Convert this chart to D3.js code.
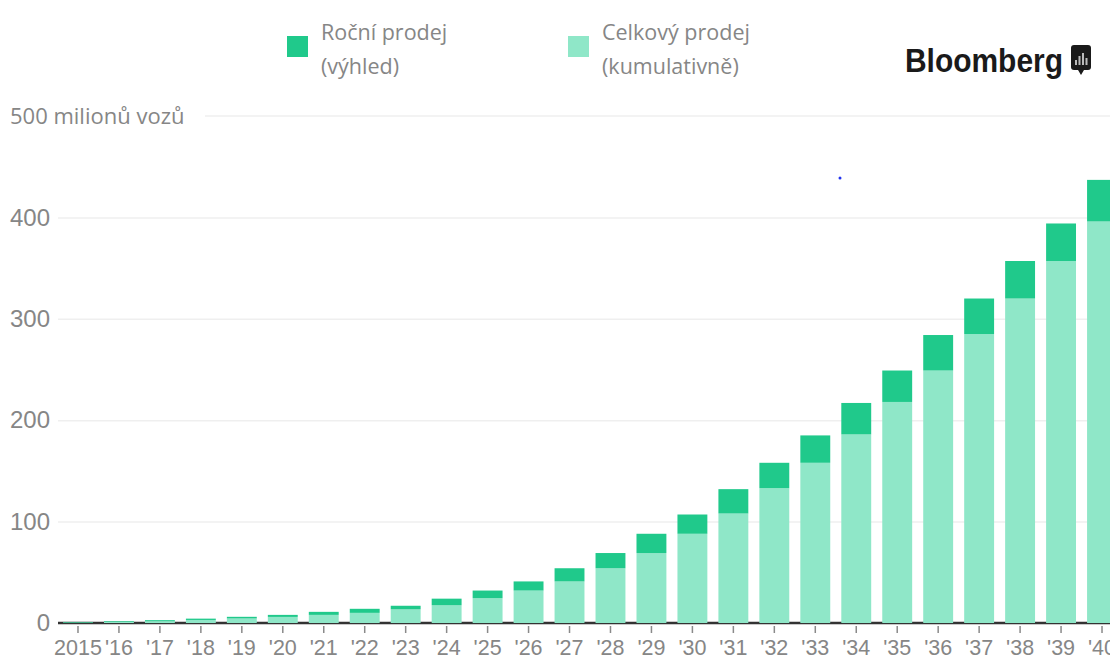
<!DOCTYPE html>
<html>
<head>
<meta charset="utf-8">
<script src="https://cdn.jsdelivr.net/npm/d3@7"></script>
<style>
  body { margin: 0; background: #fff; }
  svg { display: block; }
</style>
</head>
<body>
<script>
// years on the x axis and their short labels
const years = d3.range(2015, 2041)
const tickLabels = ["2015", "'16", "'17", "'18", "'19", "'20", "'21", "'22", "'23", "'24", "'25", "'26", "'27",
    "'28", "'29", "'30", "'31", "'32", "'33", "'34", "'35", "'36", "'37", "'38", "'39", "'40"]

// cumulative sales (light part), millions of cars
const cumulative = [0.5, 1, 1.8, 3, 4.5, 6, 8, 10, 13.5, 17.5, 24.5, 32, 41, 54, 69, 88, 108, 133, 158, 186,
    218, 249, 285, 320, 357, 396]
// annual sales outlook (dark part)
const annual = [0.5, 0.7, 1, 1.3, 1.6, 2, 3, 4, 3.5, 6.5, 7.5, 9, 13, 15, 19, 19, 24, 25, 27, 31,
    31, 35, 35, 37, 37, 41]

const yTicks = [0, 100, 200, 300, 400]
const legendItems = [
    {lines: ["Roční prodej", "(výhled)"], color: "#20c98b"},
    {lines: ["Celkový prodej", "(kumulativně)"], color: "#8fe7c8"}
]

const width = 1110, height = 668
const svg = d3.select("body").append("svg")
    .attr("width", width)
    .attr("height", height)

const x = d3.scaleBand()
    .domain(years)
    .range([57.5, 1122.5])
    .paddingInner(0.27)
    .paddingOuter(0.135)

const y = d3.scaleLinear()
    .domain([0, 500])
    .range([623, 116])

const textGrey = "#868686"

// y axis with gridlines
const yAxis = svg.append("g")
    .attr("transform", "translate(58,0)")
    .call(d3.axisLeft(y).tickValues(yTicks).tickSize(-(width - 58)).tickPadding(8))
yAxis.select(".domain").remove()
yAxis.selectAll(".tick line").attr("stroke", "#efefef").attr("stroke-width", 1.5)
yAxis.selectAll(".tick text")
    .attr("fill", textGrey)
    .style("font-family", "'Liberation Sans', Arial, sans-serif")
    .style("font-size", "24px")

// top gridline with unit label
svg.append("line")
    .attr("x1", 205).attr("x2", width)
    .attr("y1", y(500)).attr("y2", y(500))
    .attr("stroke", "#efefef").attr("stroke-width", 1.5)
svg.append("text")
    .attr("x", 10).attr("y", y(500))
    .attr("dy", "0.35em")
    .attr("fill", textGrey)
    .style("font-family", "'Open Sans', sans-serif")
    .style("font-size", "22px")
    .text("500 milionů vozů")

// baseline (shows between bars)
svg.append("line")
    .attr("x1", 58).attr("x2", width)
    .attr("y1", y(0)).attr("y2", y(0))
    .attr("stroke", "#333").attr("stroke-width", 2.5)

// bars
const bars = svg.append("g")
bars.selectAll(".cum")
    .data(years)
    .join("rect")
    .attr("class", "cum")
    .attr("x", d => x(d))
    .attr("width", x.bandwidth())
    .attr("y", (d, i) => y(cumulative[i]))
    .attr("height", (d, i) => y(0) - y(cumulative[i]))
    .attr("fill", legendItems[1].color)
bars.selectAll(".ann")
    .data(years)
    .join("rect")
    .attr("class", "ann")
    .attr("x", d => x(d))
    .attr("width", x.bandwidth())
    .attr("y", (d, i) => y(cumulative[i] + annual[i]))
    .attr("height", (d, i) => y(cumulative[i]) - y(cumulative[i] + annual[i]))
    .attr("fill", legendItems[0].color)

// x axis
const xAxis = svg.append("g")
    .attr("transform", "translate(0,626)")
    .call(d3.axisBottom(x).tickSize(7).tickPadding(7).tickFormat((d, i) => tickLabels[i]))
xAxis.select(".domain").remove()
xAxis.selectAll(".tick line").attr("stroke", "#8a8a8a").attr("stroke-width", 1.5)
xAxis.selectAll(".tick text")
    .attr("fill", textGrey)
    .style("font-family", "'Liberation Sans', Arial, sans-serif")
    .style("font-size", "21.5px")

// legend
const legendX = [287, 568]
legendItems.forEach((item, i) => {
    const g = svg.append("g").attr("transform", `translate(${legendX[i]},0)`)
    g.append("rect")
        .attr("x", 0).attr("y", 36)
        .attr("width", 21).attr("height", 21)
        .attr("fill", item.color)
    item.lines.forEach((line, j) => {
        g.append("text")
            .attr("x", 34).attr("y", 40 + j * 34)
            .attr("fill", textGrey)
            .style("font-family", "'Open Sans', sans-serif")
            .style("font-size", "21.5px")
            .text(line)
    })
})

// Bloomberg logo
svg.append("text")
    .attr("x", 905).attr("y", 72)
    .attr("textLength", 158)
    .attr("lengthAdjust", "spacingAndGlyphs")
    .attr("fill", "#1a1a1a")
    .style("font-family", "'Liberation Sans', Arial, sans-serif")
    .style("font-weight", "bold")
    .style("font-size", "34px")
    .text("Bloomberg")
const logo = svg.append("g").attr("transform", "translate(1071,45)")
logo.append("rect")
    .attr("width", 20).attr("height", 25).attr("rx", 3)
    .attr("fill", "#1a1a1a")
logo.append("path")
    .attr("d", "M7,25 L10,30 L13,25 Z")
    .attr("fill", "#1a1a1a")
const iconBars = [5, 9, 12, 7]
iconBars.forEach((h, i) => {
    logo.append("rect")
        .attr("x", 4 + i * 3.5).attr("y", 20 - h)
        .attr("width", 2).attr("height", h)
        .attr("fill", "#bbb")
})

// stray dot visible in the source picture
svg.append("circle")
    .attr("cx", 840).attr("cy", 178).attr("r", 1.5)
    .attr("fill", "#2233ee")
</script>
</body>
</html>
